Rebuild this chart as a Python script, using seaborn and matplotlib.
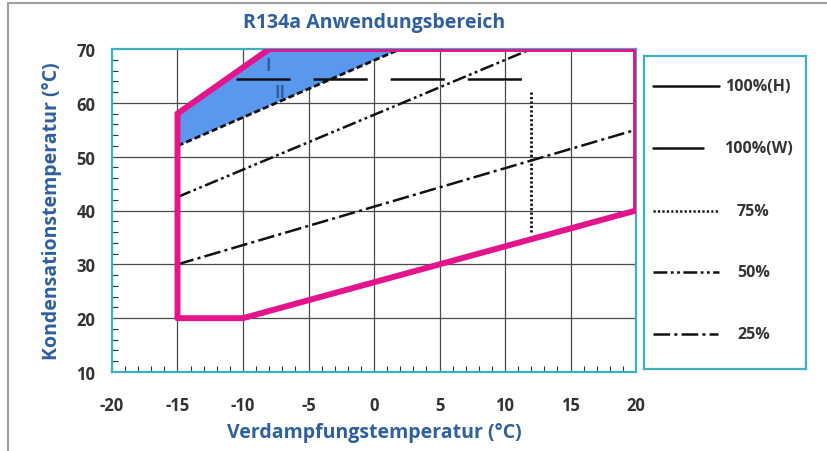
import matplotlib
matplotlib.use("Agg")
import matplotlib.pyplot as plt
import seaborn as sns
import pandas as pd
from matplotlib.patches import Rectangle

sns.set_theme(style="white")
plt.rcParams['font.family'] = ['Open Sans', 'DejaVu Sans']
plt.rcParams['lines.scale_dashes'] = False
plt.rcParams['axes.unicode_minus'] = False

# ---- data ----
env_x = [-15, -10, 20, 20, -8, -15, -15]
env_y = [20, 20, 40, 70, 70, 58, 20]
fill_x = [-15, -8, 2, -15]
fill_y = [58, 70, 70, 52]
l100_x = [-10.5, 11.3]
l100_y = [64.5, 64.5]
l75_x = [-15, 2]
l75_y = [52, 70]
l75v_x = [12, 12]
l75v_y = [62, 36]
l50_x = [-15, 12]
l50_y = [42.5, 70]
l25_x = [-15, 20]
l25_y = [30, 55]
legend_labels = ["100%(H)", "100%(W)", "75%", "50%", "25%"]
xticks = [-20, -15, -10, -5, 0, 5, 10, 15, 20]
yticks = [10, 20, 30, 40, 50, 60, 70]

MAGENTA = '#E4148C'
FILLBLUE = '#5A98EE'
TXTBLUE = '#2E5F9E'
TEAL = '#3FB0C2'
DARK = '#333333'

fig = plt.figure(figsize=(8.27, 4.52), dpi=100)
W, H = 827, 452

def rect(x0, y0, x1, y1):
    return [x0 / W, 1 - y1 / H, (x1 - x0) / W, (y1 - y0) / H]

# outer frame
fig.patches.append(Rectangle((8 / W, -0.02), 1.1, 1 - 4 / H + 0.02, transform=fig.transFigure,
                             fill=False, edgecolor='#a0a0a0', linewidth=1.5))

ax = fig.add_axes(rect(112, 50, 636, 373))
ax.set_xlim(-20, 20)
ax.set_ylim(10, 70)

# grid
for xv in xticks[1:-1]:
    ax.axvline(xv, color='#4a4a4a', lw=0.9, zorder=1)
for yv in yticks[1:-1]:
    ax.axhline(yv, color='#4a4a4a', lw=0.9, zorder=1)

ax.fill(fill_x, fill_y, color=FILLBLUE, lw=0, zorder=2)

kw = dict(ax=ax, estimator=None, sort=False, color='#111111')
sns.lineplot(x=l75_x, y=l75_y, lw=2.0, linestyle=(0, (4.5, 2.2)), zorder=3, **kw)
sns.lineplot(x=l75v_x, y=l75v_y, lw=2.0, linestyle=(0, (1.6, 1.6)), zorder=3, **kw)
sns.lineplot(x=l50_x, y=l50_y, lw=1.8, linestyle=(0, (10, 2.5, 2, 2.5, 2, 2.5)), zorder=3, **kw)
sns.lineplot(x=l25_x, y=l25_y, lw=1.8, linestyle=(0, (12, 3, 2.2, 3)), zorder=3, **kw)
sns.lineplot(x=l100_x, y=l100_y, lw=1.8, linestyle=(0, (39, 16.5)), zorder=3, **kw)
sns.lineplot(x=env_x, y=env_y, ax=ax, estimator=None, sort=False, color=MAGENTA, lw=4.3,
             zorder=4, solid_joinstyle='miter')

ax.text(-8.1, 67.0, "I", color=TXTBLUE, fontsize=12, fontweight='bold', ha='center', va='center')
ax.text(-7.2, 62.0, "II", color=TXTBLUE, fontsize=12, fontweight='bold', ha='center', va='center')

ax.set_xticks(xticks)
ax.set_yticks(yticks)
ax.set_xticks(range(-20, 21, 1), minor=True)
ax.set_yticks(range(10, 71, 2), minor=True)
ax.tick_params(axis='both', which='both', bottom=True, left=True)
ax.tick_params(axis='both', which='major', length=0, labelsize=12, labelcolor=DARK)
ax.tick_params(axis='x', which='major', pad=17)
ax.tick_params(axis='y', which='major', pad=12)
ax.tick_params(axis='both', which='minor', direction='in', length=4, width=0.8, color='#333333')
for lab in ax.get_xticklabels() + ax.get_yticklabels():
    lab.set_fontweight('bold')
for s in ax.spines.values():
    s.set_color(TEAL)
    s.set_linewidth(1.6)
    s.set_visible(True)

ax.set_title("R134a Anwendungsbereich", color=TXTBLUE, fontsize=14, fontweight='bold', pad=16)
ax.set_xlabel("Verdampfungstemperatur (°C)", color=TXTBLUE, fontsize=14, fontweight='bold', labelpad=6)
ax.set_ylabel("Kondensationstemperatur (°C)", color=TXTBLUE, fontsize=14, fontweight='bold', labelpad=10)

# legend box
lax = fig.add_axes(rect(644, 57, 806, 370))
lax.set_xlim(644, 806)
lax.set_ylim(370, 57)
lax.set_xticks([])
lax.set_yticks([])
for s in lax.spines.values():
    s.set_color(TEAL)
    s.set_linewidth(1.6)
    s.set_visible(True)

leg_y = [87, 149, 212, 273, 335]
leg_x1 = [719, 703, 718, 719, 718]
leg_ls = ['-', '-', (0, (1.6, 1.6)), (0, (10, 2.5, 2, 2.5, 2, 2.5)), (0, (12, 3, 2.2, 3))]
leg_tx = [725, 724, 737, 737, 737]
for lab, yy, x1, ls, tx in zip(legend_labels, leg_y, leg_x1, leg_ls, leg_tx):
    sns.lineplot(x=[653, x1], y=[yy, yy], ax=lax, estimator=None, color='#111111', lw=1.8, linestyle=ls)
    lax.text(tx, yy, lab, fontsize=11.5, fontweight='bold', color=DARK, va='center', ha='left')

fig.savefig("out.png", dpi=100)
